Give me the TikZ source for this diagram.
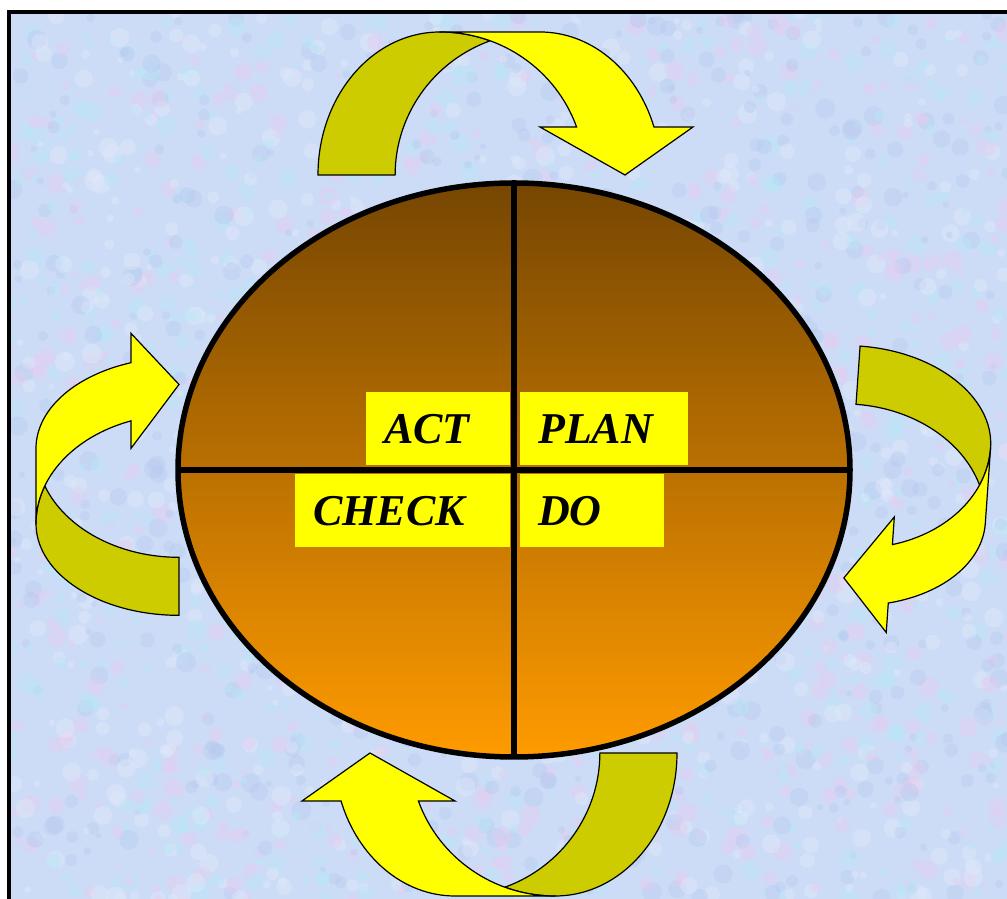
\documentclass[tikz,border=0pt]{standalone}
\usepackage{fontspec}
\newfontfamily\pdcafont{Liberation Serif}
\usetikzlibrary{calc}

\definecolor{bandolive}{RGB}{204,204,0}
\definecolor{bandyellow}{RGB}{255,255,0}
\definecolor{wheeltop}{RGB}{118,70,2}
\definecolor{wheelbot}{RGB}{255,155,0}
\definecolor{paper}{RGB}{204,220,246}
\definecolor{speckpink}{RGB}{232,204,240}
\definecolor{speckcyan}{RGB}{182,232,246}
\definecolor{speckblue}{RGB}{184,200,240}
\definecolor{specklight}{RGB}{226,234,250}

\tikzset{
  band/.style={draw=black,line width=1.2pt,line join=miter},
  wheel/.style={draw=black,line width=5.5pt,top color=wheeltop,bottom color=wheelbot},
  spoke/.style={draw=black,line width=5.5pt},
  wordbox/.style={fill=bandyellow,anchor=north west,inner xsep=18pt,inner ysep=0pt,
    minimum height=73pt,align=left,font=\pdcafont\bfseries\itshape\fontsize{44}{48}\selectfont}
}

%% one curved arrow: rear band + front band with head, base on the x axis
\newcommand{\cyclearrow}[1]{%
  \begin{scope}[#1]
    \draw[band,fill=bandolive] (-172,0) arc[start angle=180,end angle=90,x radius=122,y radius=143]
      arc[start angle=90,end angle=69.8,x radius=145,y radius=143]
      arc[start angle=110.2,end angle=180,x radius=145,y radius=143] -- cycle;
    \draw[band,fill=bandyellow] (-50,143) -- (50,143)
      arc[start angle=90,end angle=19.6,x radius=121,y radius=143]
      -- (203,48) -- (135,0) -- (50,48) -- (86.6,48)
      arc[start angle=19.6,end angle=90,x radius=145,y radius=143] -- cycle;
  \end{scope}}

\begin{document}
\begin{tikzpicture}[x=1pt,y=1pt]
	\useasboundingbox (0,0) rectangle (1007,899);
	\clip (0,0) rectangle (1007,899);
	%% mottled paper
	\fill[paper] (9,887) rectangle (1007,0);
	\pgfmathsetseed{4242}
	\begin{scope}
		\clip (9,887) rectangle (1007,0);
		\foreach \k in {1,...,2600}{
			\pgfmathsetmacro\sx{9+rnd*1000}
			\pgfmathsetmacro\sy{rnd*887}
			\pgfmathsetmacro\sr{3+rnd*7}
			\pgfmathtruncatemacro\sc{mod(\k,4)}
			\ifcase\sc \def\scol{speckpink}\or \def\scol{speckcyan}\or \def\scol{speckblue}\or \def\scol{specklight}\fi
			\fill[fill=\scol,opacity=.4] (\sx,\sy) circle[radius=\sr];
		}
	\end{scope}
	\draw[line width=4pt] (9,887) rectangle (1040,-40);
	%% arrows round the wheel
	\cyclearrow{shift={(490,724)}}
	\cyclearrow{shift={(851,423)},rotate=-94,xscale=0.757,yscale=0.96}
	\cyclearrow{shift={(505,146)},rotate=180}
	\cyclearrow{shift={(179,413)},rotate=90,xscale=0.752}
	%% wheel
	\coordinate (hub) at (514,429);
	\path[wheel] (hub) ellipse[x radius=336,y radius=287];
	\draw[spoke] ($(hub)+(0,287)$) -- ($(hub)-(0,287)$);
	\draw[spoke] ($(hub)-(336,0)$) -- ($(hub)+(336,0)$);
	%% labels
	\node[wordbox,text width=108pt] (act) at (366,507) {ACT};
	\node[wordbox,text width=132pt] (plan) at (520,507) {PLAN};
	\node[wordbox,text width=179pt] (check) at (295,425) {CHECK};
	\node[wordbox,text width=108pt] (do) at (520,425) {DO};
\end{tikzpicture}
\end{document}
